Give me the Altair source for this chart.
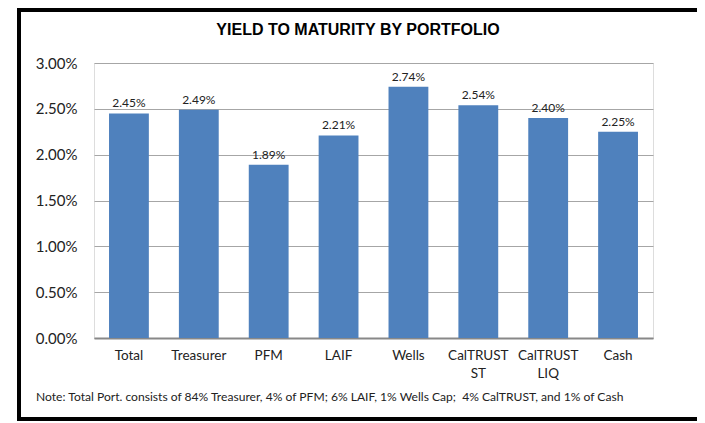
import altair as alt
import pandas as pd

categories = ["Total", "Treasurer", "PFM", "LAIF", "Wells", "CalTRUST\nST", "CalTRUST\nLIQ", "Cash"]
yields = [0.0245, 0.0249, 0.0189, 0.0221, 0.0274, 0.0254, 0.0240, 0.0225]
labels = ["2.45%", "2.49%", "1.89%", "2.21%", "2.74%", "2.54%", "2.40%", "2.25%"]
title_text = "YIELD TO MATURITY BY PORTFOLIO"
note_text = "Note: Total Port. consists of 84% Treasurer, 4% of PFM; 6% LAIF, 1% Wells Cap;\u00a0 4% CalTRUST, and 1% of Cash"

df = pd.DataFrame({"cat": categories, "ytm": yields, "lbl": labels})

x = alt.X("cat:N", sort=categories, title=None,
          scale=alt.Scale(paddingInner=0.43, paddingOuter=0.215),
          axis=alt.Axis(labelAngle=0, labelExpr="split(datum.value, '\\n')",
                        labelFont="Lato", labelFontSize=13.5, labelColor="#222222",
                        labelPadding=10, labelLineHeight=18, ticks=False,
                        domainColor="#888888", domainWidth=2))
y = alt.Y("ytm:Q", title=None,
          scale=alt.Scale(domain=[0, 0.03], nice=False),
          axis=alt.Axis(format=".2%", values=[0, 0.005, 0.01, 0.015, 0.02, 0.025, 0.03],
                        labelFont="Lato", labelFontSize=15, labelColor="#222222",
                        labelPadding=17, ticks=False, domain=False,
                        gridColor="#a6a6a6", gridWidth=1))

base = alt.Chart(df)
bars = base.mark_bar(color="#4F81BD").encode(x=x, y=y)
text = base.mark_text(font="Lato", fontSize=12, color="#222222", baseline="bottom", dy=-3).encode(
    x=alt.X("cat:N", sort=categories), y="ytm:Q", text="lbl:N")

title = alt.Chart(pd.DataFrame({"t": [title_text]})).mark_text(
    font="Liberation Sans", fontSize=16, fontWeight="bold", color="#000000",
    align="center", baseline="middle").encode(
    x=alt.value(264), y=alt.value(-33), text="t:N")

note = alt.Chart(pd.DataFrame({"t": [note_text]})).mark_text(
    font="Lato", fontSize=12.1, color="#222222", align="left", baseline="middle").encode(
    x=alt.value(-58), y=alt.value(334), text="t:N")

frame = alt.Chart(pd.DataFrame({"t": [0]})).mark_rect(
    fill=None, stroke="black", strokeWidth=4).encode(
    x=alt.value(-75), x2=alt.value(606), y=alt.value(-53), y2=alt.value(356))

chart = alt.layer(bars, text, title, note, frame).properties(
    width=559, height=275,
    autosize=alt.AutoSizeParams(type="none"),
    padding={"left": 86, "top": 55, "right": 44, "bottom": 83},
).configure_view(stroke=None).configure(background="white")

chart.save("out.html", embed_options={"renderer": "svg", "actions": False})
